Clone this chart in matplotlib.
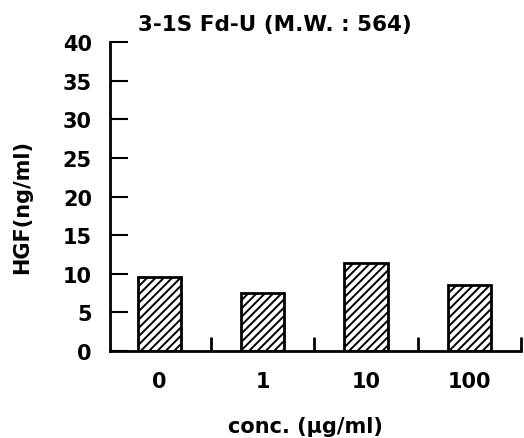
import matplotlib
matplotlib.use("Agg")
import matplotlib.pyplot as plt

categories = ["0", "1", "10", "100"]
values = [9.6, 7.5, 11.4, 8.6]
yticks = [0, 5, 10, 15, 20, 25, 30, 35, 40]

plt.rcParams['font.family'] = ['DejaVu Sans']
plt.rcParams['font.weight'] = 'bold'
plt.rcParams['hatch.linewidth'] = 1.4

fig = plt.figure(figsize=(5.24, 4.39), dpi=100)
ax = fig.add_axes([0.21, 0.198, 0.784, 0.704])

x = list(range(len(categories)))
ax.bar(x, values, width=0.42, color='white', edgecolor='black', linewidth=2, hatch='////')

ax.set_xlim(-0.48, 3.5)
ax.set_ylim(0, 40)
ax.set_yticks(yticks)
ax.set_yticklabels([str(t) for t in yticks], fontsize=15, fontweight='bold')
ax.set_xticks(x)
ax.set_xticklabels(categories, fontsize=15, fontweight='bold')
ax.tick_params(axis='x', length=0, pad=14)
ax.set_xticks([0.5, 1.5, 2.5, 3.5], minor=True)
ax.tick_params(axis='x', which='minor', direction='in', length=10, width=2)
ax.tick_params(axis='y', direction='in', length=13, width=1.5, pad=13)

for s in ['top', 'right']:
    ax.spines[s].set_visible(False)
for s in ['left', 'bottom']:
    ax.spines[s].set_linewidth(2)

ax.set_ylabel("HGF(ng/ml)", fontsize=15, fontweight='bold')
ax.yaxis.set_label_coords(-0.19, 0.47)
fig.text(305 / 524, 1 - 427 / 439, "conc. (\u03bcg/ml)", ha='center', va='center',
         fontsize=15, fontweight='bold')
fig.text(275 / 524, 1 - 25 / 439, "3-1S Fd-U (M.W. : 564)", ha='center', va='center',
         fontsize=15.5, fontweight='bold')

fig.savefig("out.png", dpi=100)
